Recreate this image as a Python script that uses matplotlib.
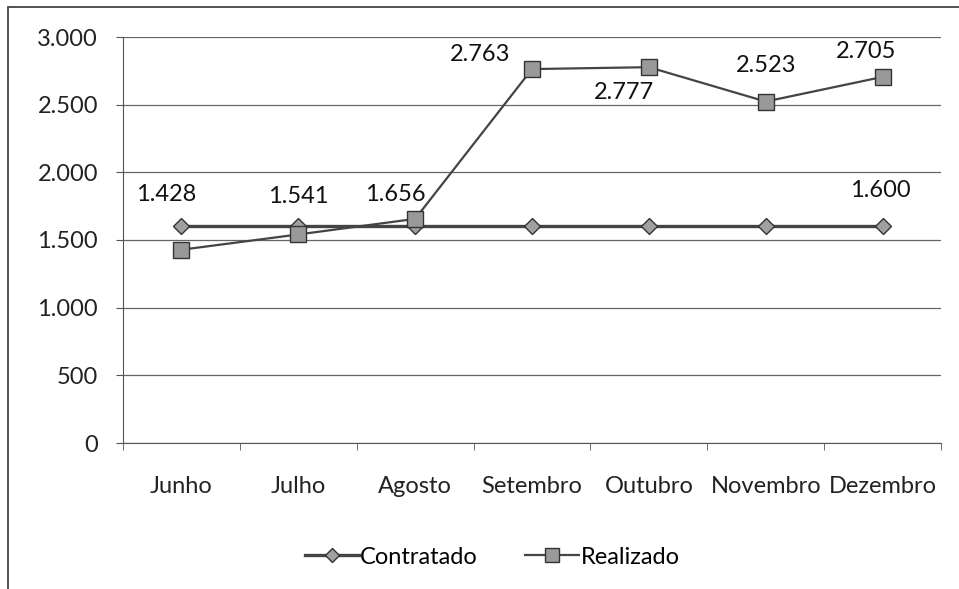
import numpy as np
import matplotlib.pyplot as plt
from matplotlib.patches import Rectangle

meses = ["Junho", "Julho", "Agosto", "Setembro", "Outubro", "Novembro", "Dezembro"]
contratado = [1600, 1600, 1600, 1600, 1600, 1600, 1600]
realizado = [1428, 1541, 1656, 2763, 2777, 2523, 2705]

# deslocamento dos rotulos (pixels) em relacao ao marcador
desloc_real = [(-15, 55), (0, 38), (-20, 24), (-52, 15), (-25, -25), (0, 36), (-17, 25)]
desloc_contr = (-2, 36)

plt.rcParams['font.family'] = ['Lato', 'DejaVu Sans']
fs = 17

fig = plt.figure(figsize=(9.59, 5.89), dpi=100)
ax = fig.add_axes([123 / 959, 1 - 443 / 589, 818 / 959, 406 / 589])

x = np.arange(len(meses))
ax.plot(x, contratado, color="#444444", lw=2.4, marker="D", ms=8,
        markerfacecolor="#a0a0a0", markeredgecolor="#333333", label="Contratado", zorder=3)
ax.plot(x, realizado, color="#444444", lw=1.6, marker="s", ms=11,
        markerfacecolor="#999999", markeredgecolor="#333333", label="Realizado", zorder=4)

def fmt(v):
    return f"{v:,}".replace(",", ".")

for i, v in enumerate(realizado):
    ax.annotate(fmt(v), (i, v), xytext=desloc_real[i], textcoords="offset pixels",
                ha="center", va="center", fontsize=fs, color="#111111")
ax.annotate(fmt(contratado[-1]), (len(meses) - 1, contratado[-1]), xytext=desloc_contr,
            textcoords="offset pixels", ha="center", va="center", fontsize=fs, color="#111111")

ax.set_xlim(-0.5, len(meses) - 0.5)
ax.set_ylim(0, 3000)
ax.set_yticks(range(0, 3001, 500))
ax.set_yticklabels([fmt(v) for v in range(0, 3001, 500)], fontsize=fs, color="#222222")
ax.set_xticks(x)
ax.set_xticklabels(meses, fontsize=fs, color="#222222")
ax.set_xticks(np.arange(-0.5, len(meses)), minor=True)
ax.tick_params(axis="x", which="major", length=0, pad=24)
ax.tick_params(axis="x", which="minor", length=5, color="#555555")
ax.tick_params(axis="y", length=5, color="#555555", pad=13)
ax.grid(axis="y", color="#666666", lw=0.9)
ax.set_axisbelow(True)
for s in ["top", "right"]:
    ax.spines[s].set_visible(False)
ax.spines["left"].set_color("#555555")
ax.spines["bottom"].set_color("#555555")

fig.legend(loc="center", bbox_to_anchor=(492 / 959, 1 - 557 / 589), ncol=2,
           frameon=False, fontsize=fs, handlelength=2.3, columnspacing=2.0,
           handletextpad=0.05, markerscale=0.9)

fig.patches.append(Rectangle((8 / 959, -0.1), 1.2, 1.1 - 7 / 589, transform=fig.transFigure,
                             fill=False, edgecolor="#444444", lw=1.3))

fig.savefig("out.png", dpi=100)
